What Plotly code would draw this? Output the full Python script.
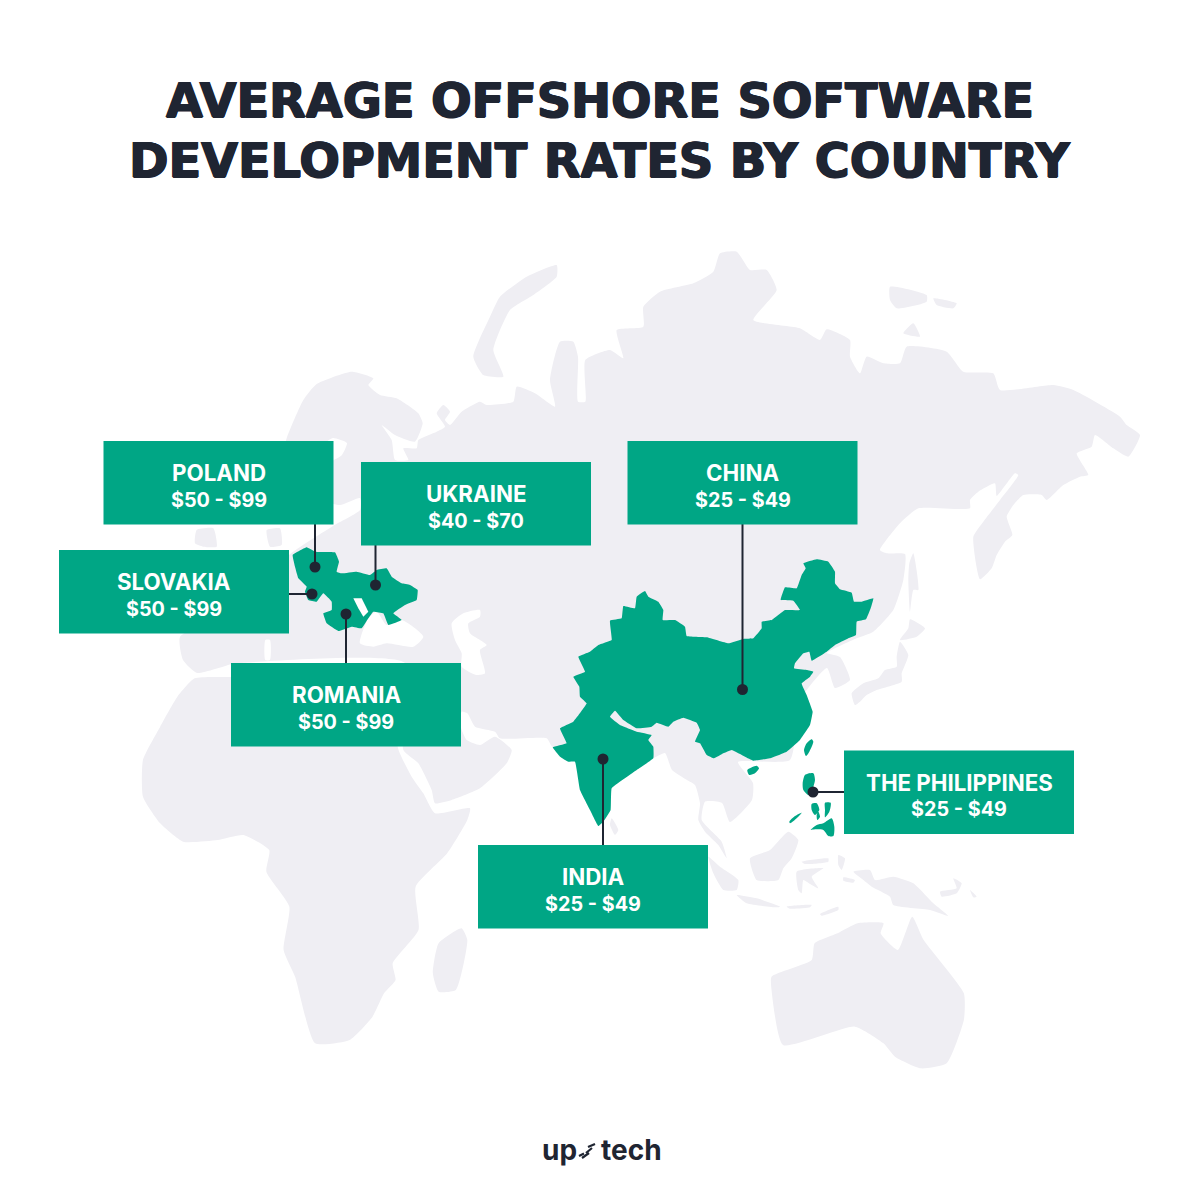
import plotly.graph_objects as go

# ---------- content ----------
TITLE_LINES = ["AVERAGE OFFSHORE SOFTWARE", "DEVELOPMENT RATES BY COUNTRY"]
COUNTRIES = ["POLAND", "UKRAINE", "CHINA", "SLOVAKIA", "ROMANIA", "INDIA", "THE PHILIPPINES"]
RATES = ["$50 - $99", "$40 - $70", "$25 - $49", "$50 - $99", "$50 - $99", "$25 - $49", "$25 - $49"]
BOX_X0 = [103.5, 361, 627.5, 59, 231, 478, 844]
BOX_Y0 = [441, 462, 441, 550, 663, 845, 750.5]
DOT_X = [315, 375.5, 742.5, 312, 346, 603, 813]
DOT_Y = [567, 585, 689.5, 594, 614, 759, 792]
ANCHOR_X = [315, 375.5, 742.5, 289, 346, 603, 844]
ANCHOR_Y = [524, 545, 524, 594, 663, 845, 792]
BOX_W, BOX_H = 230, 83.5

GREEN = "#00a685"
INK = "#1f2532"
LAND = "#efeef3"


def sx(pts, x0, y0, kx, ky):
    return [(x0 + a / kx, y0 + b / ky) for a, b in pts]


def z1(pts): return sx(pts, 40, 430, 3, 3)
def z2(pts): return sx(pts, 540, 540, 3, 3)
def z3(pts): return sx(pts, 120, 240, 1.5, 3)
def z4(pts): return sx(pts, 120, 640, 1.742, 3)
def z6(pts): return sx(pts, 780, 730, 3, 3)
def za(pts): return sx(pts, 850, 420, 3, 3)
def zb(pts): return sx(pts, 380, 590, 3, 3)
def zc(pts): return sx(pts, 680, 790, 3, 3)
def zd(pts): return sx(pts, 280, 360, 3, 3)


# ---------- outlines ----------
EURASIA = (
    zd([(20, 235), (70, 120), (110, 72), (215, 35), (280, 55), (265, 75), (300, 105), (350, 115), (415, 160), (428, 190),
        (405, 245), (345, 225), (305, 195), (335, 240), (345, 300), (385, 300), (370, 265), (410, 265), (415, 240),
        (470, 215), (495, 200), (470, 160), (490, 135), (510, 155), (495, 180), (510, 195), (545, 155), (600, 125),
        (620, 135), (700, 125), (710, 80), (765, 100), (825, 140)])
    + z3([(645, 420), (660, 305), (680, 305), (687, 350), (687, 485), (698, 485),
          (698, 360), (735, 330), (755, 355), (745, 270), (785, 260), (785, 200), (810, 155), (860, 130),
          (890, 95), (900, 40), (925, 35), (945, 90), (970, 90), (985, 150), (950, 240), (1020, 265),
          (1050, 300), (1060, 268), (1095, 300), (1095, 350), (1110, 400), (1120, 350), (1145, 370),
          (1170, 370), (1180, 320), (1240, 335), (1265, 395), (1310, 400), (1320, 450), (1400, 435),
          (1430, 450), (1500, 530)])
    + za([(830, 15), (870, 45), (835, 110), (790, 85), (735, 45), (725, 80), (680, 100), (715, 165), (690, 170),
          (640, 195), (590, 240), (575, 225), (520, 225), (490, 255), (470, 290), (487, 345), (465, 365), (440, 405),
          (425, 445), (390, 478), (370, 350), (400, 305), (450, 240), (505, 165), (495, 160), (440, 228), (435, 190),
          (385, 215), (360, 240), (360, 265), (205, 265), (150, 310), (90, 390), (110, 400), (165, 402), (160, 480),
          (130, 570), (70, 635), (20, 655)])
    + [(827, 653), (840, 657), (850, 680), (835, 688), (827, 668), (800, 700), (790, 760), (738, 762), (753, 783),
       (752, 800), (730, 822), (722, 803)]
    + zc([(75, 35), (65, 90), (125, 155), (140, 205), (115, 165), (75, 125), (55, 90), (60, 40)])
    + [(695, 785), (687, 780), (672, 770), (665, 753), (653, 758), (605, 760)]
    + zb([(517, 470), (500, 445), (360, 445), (345, 425), (285, 410), (262, 370), (245, 365), (240, 400), (245, 420),
          (260, 450), (300, 465), (345, 440), (395, 480), (380, 520), (300, 595), (215, 630), (165, 640), (155, 600),
          (115, 520), (70, 480)])
    + [(405, 663), (240, 663), (232, 664), (197, 673), (183, 660), (180, 637), (250, 600), (289, 555), (333, 526),
       (360, 510), (360, 498), (340, 505), (322, 500), (322, 465), (334, 460), (342, 455), (347, 443), (333, 438),
       (322, 445), (300, 470), (280, 470)]
)
AFRICA = z4([(130, 115), (100, 170), (70, 260), (40, 360), (40, 470), (70, 550), (110, 605), (170, 600), (215, 585),
             (260, 630), (255, 695), (295, 800), (285, 930), (305, 1010), (340, 1210), (400, 1200), (440, 1130),
             (460, 1060), (480, 1020), (475, 970), (520, 870), (515, 740), (570, 640), (605, 540)]) + zb(
    [(270, 655), (165, 670), (130, 610), (95, 560), (55, 478)]) + [(390, 680), (231, 677)]
MADAGASCAR = z4([(595, 865), (605, 900), (585, 1050), (555, 1055), (545, 1000), (555, 910)])
AUSTRALIA = z4([(1135, 1010), (1205, 960), (1210, 910), (1250, 880), (1285, 850), (1330, 850), (1325, 880), (1355, 930),
                (1380, 830), (1400, 900), (1470, 1060), (1470, 1140), (1440, 1270), (1395, 1285), (1350, 1250),
                (1330, 1210), (1280, 1160), (1155, 1215), (1135, 1050)])
SUMATRA = zc([(85, 200), (120, 230), (175, 270), (170, 300), (130, 300), (100, 250)])
BORNEO = zc([(210, 205), (270, 180), (325, 125), (355, 150), (335, 205), (310, 235), (295, 270), (230, 270)])
JAVA = zc([(170, 315), (230, 325), (300, 350), (290, 352), (200, 340)])
SUNDA_A = zc([(320, 350), (395, 345), (390, 352), (330, 356)])
SUNDA_B = zc([(420, 372), (475, 350), (475, 360), (425, 377)])
SULAWESI = zc([(350, 245), (430, 235), (395, 260), (415, 295), (395, 285), (370, 270), (365, 310), (355, 300)])
MOLUCCA_A = zc([(365, 215), (445, 205), (445, 215), (375, 222)])
MOLUCCA_B = zc([(475, 195), (495, 205), (485, 240), (475, 225)])
MOLUCCA_C = zc([(490, 262), (525, 270), (520, 278), (490, 272)])
NEW_GUINEA = zc([(520, 245), (570, 240), (585, 270), (640, 260), (700, 280), (760, 340), (805, 378), (750, 360),
                 (640, 345), (630, 320), (575, 290), (550, 270)])
BISMARCK = zc([(780, 305), (830, 295), (820, 265), (845, 280), (830, 310), (785, 320)])
SOLOMON = zc([(870, 300), (890, 320), (880, 322)])
SRI_LANKA = z2([(215, 835), (235, 870), (225, 885), (210, 855)])
SAKHALIN = za([(190, 400), (205, 510), (190, 510), (180, 575), (175, 480), (178, 430)])
HOKKAIDO = za([(180, 598), (225, 625), (200, 650), (150, 660), (175, 625)])
HONSHU = za([(150, 665), (175, 705), (155, 760), (155, 785), (80, 810), (50, 825), (30, 845), (15, 855), (5, 820),
             (40, 790), (85, 775), (105, 750), (140, 740), (140, 710)])
NOVAYA = z3([(655, 75), (655, 110), (620, 165), (585, 210), (560, 330), (575, 410), (545, 405), (530, 350), (555, 230),
             (570, 170), (610, 110)])
ARCTIC_A = z3([(1155, 140), (1210, 165), (1210, 185), (1165, 205), (1155, 180)])
ARCTIC_B = z3([(1220, 175), (1255, 190), (1250, 205), (1225, 195)])
ARCTIC_C = z3([(1190, 250), (1200, 290), (1175, 280)])
UK = z1([(470, 300), (520, 295), (530, 350), (490, 350), (465, 340)])
DENMARK = z1([(680, 300), (720, 295), (725, 345), (690, 350)])

BLACK_SEA = z1([(960, 640), (985, 565), (1010, 545), (1040, 585), (1085, 570), (1150, 620), (1120, 650), (1040, 640),
                (1000, 650)])
CASPIAN = zb([(215, 100), (250, 70), (300, 60), (300, 80), (265, 100), (270, 130), (320, 165), (300, 180), (315, 250),
              (290, 255), (245, 230), (245, 190), (225, 150)])
ITALY_GAP = z1([(676, 630), (690, 630), (690, 690), (676, 690)])
SEAS = [BLACK_SEA, CASPIAN, ITALY_GAP]

CHINA_INDIA = z2([(790, 70), (830, 58), (865, 65), (885, 95), (885, 130), (900, 148), (935, 158), (942, 185), (965, 185),
                  (1000, 175), (992, 205), (978, 238), (950, 245), (948, 285), (925, 295), (885, 315), (860, 335),
                  (815, 362), (808, 335), (790, 340), (765, 370), (762, 385), (800, 390), (820, 395), (810, 410),
                  (785, 430), (800, 465), (818, 515), (810, 555), (780, 600), (740, 635), (690, 655), (640, 662),
                  (615, 650), (575, 630), (550, 640), (522, 655), (500, 645), (480, 610), (465, 605), (480, 570),
                  (470, 548), (430, 533), (400, 545), (385, 560), (350, 548), (335, 560), (290, 565), (250, 540),
                  (225, 512), (210, 530), (240, 555), (290, 575), (335, 585), (325, 600), (340, 620), (340, 655),
                  (290, 690), (215, 745), (212, 810), (190, 845), (175, 858), (150, 810), (120, 750), (105, 665),
                  (85, 665), (60, 650), (38, 622), (80, 610), (60, 565), (100, 545), (140, 490), (120, 470), (118, 440),
                  (100, 410), (135, 395), (115, 350), (150, 335), (175, 315), (215, 300), (210, 242), (245, 235),
                  (250, 198), (285, 205), (290, 170), (315, 153), (325, 170), (355, 185), (370, 210), (368, 240),
                  (405, 240), (435, 260), (440, 288), (500, 292), (565, 310), (610, 297), (640, 295), (665, 265),
                  (665, 245), (695, 240), (735, 210), (780, 210), (760, 182), (722, 180), (735, 142), (770, 145),
                  (785, 105), (797, 85)])
HAINAN = z2([(622, 690), (650, 677), (657, 685), (645, 700), (628, 705)])
EAST_EUROPE = z1([(758, 375), (800, 352), (825, 365), (885, 367), (897, 395), (890, 425), (905, 430), (950, 425),
                  (990, 435), (1010, 420), (1040, 415), (1055, 440), (1085, 460), (1110, 465), (1133, 480), (1130, 510),
                  (1095, 525), (1060, 550), (1085, 570), (1045, 585), (1030, 550), (1000, 545), (985, 565), (965, 595),
                  (935, 590), (895, 603), (860, 580), (850, 550), (875, 540), (875, 515), (850, 490), (830, 515),
                  (805, 510), (795, 485), (800, 470), (775, 445), (765, 410)])
MOLDOVA_GAP = z1([(940, 505), (965, 505), (985, 545), (970, 560), (955, 535)])
PH_ISLANDS = [z6(p) for p in (
    [(95, 28), (100, 35), (88, 65), (78, 78), (72, 60), (80, 40)],
    [(75, 135), (100, 130), (105, 150), (100, 175), (110, 195), (85, 195), (70, 180), (68, 160)],
    [(65, 248), (50, 265), (30, 280), (28, 275), (45, 258)],
    [(95, 222), (110, 220), (118, 240), (105, 255), (95, 240)],
    [(135, 218), (152, 218), (148, 245), (135, 262), (135, 240)],
    [(115, 245), (120, 260), (112, 270), (110, 255)],
    [(92, 300), (110, 285), (130, 280), (155, 265), (163, 290), (160, 318), (145, 318), (130, 300), (105, 298)],
)]


def poly(polys, color, name, smooth=0.0):
    xs, ys = [], []
    for p in polys:
        xs += [a for a, _ in p] + [p[0][0], None]
        ys += [b for _, b in p] + [p[0][1], None]
    line = dict(width=0)
    if smooth:
        line.update(shape="spline", smoothing=smooth)
    return go.Scatter(x=xs, y=ys, mode="lines", fill="toself", fillcolor=color, line=line,
                      hoverinfo="skip", name=name)


fig = go.Figure()
fig.add_trace(poly([EURASIA, AFRICA, MADAGASCAR, AUSTRALIA, SUMATRA, BORNEO, JAVA, SUNDA_A, SUNDA_B, SULAWESI,
                    MOLUCCA_A, MOLUCCA_B, MOLUCCA_C, NEW_GUINEA, BISMARCK, SOLOMON, SRI_LANKA, HOKKAIDO, HONSHU,
                    SAKHALIN, NOVAYA, ARCTIC_A, ARCTIC_B, ARCTIC_C, UK, DENMARK], LAND, "land", 0.5))
fig.add_trace(poly(SEAS, "#ffffff", "seas", 0.6))
fig.add_trace(poly([CHINA_INDIA, EAST_EUROPE], GREEN, "highlighted", 0.25))
fig.add_trace(poly([HAINAN] + PH_ISLANDS, GREEN, "islands", 0.7))
fig.add_trace(poly([MOLDOVA_GAP], "#ffffff", "gap"))

for i in range(len(COUNTRIES)):
    fig.add_trace(go.Scatter(x=[ANCHOR_X[i], DOT_X[i]], y=[ANCHOR_Y[i], DOT_Y[i]], mode="lines",
                             line=dict(color=INK, width=2), hoverinfo="skip", name=COUNTRIES[i]))
fig.add_trace(go.Scatter(x=DOT_X, y=DOT_Y, mode="markers", marker=dict(color=INK, size=11), hoverinfo="skip",
                         name="dots"))

shapes, notes = [], []
LABEL_FONT = "Inter"
for i, (c, r) in enumerate(zip(COUNTRIES, RATES)):
    x0, y0 = BOX_X0[i], BOX_Y0[i]
    shapes.append(dict(type="rect", x0=x0, x1=x0 + BOX_W, y0=y0, y1=y0 + BOX_H, xref="x", yref="y",
                       fillcolor=GREEN, line=dict(width=0), layer="above"))
    notes.append(dict(x=x0 + BOX_W / 2, y=y0 + 31.5, text=f"<b>{c}</b>", showarrow=False, xref="x", yref="y",
                      font=dict(family=LABEL_FONT, size=22.3, color="white", weight=800)))
    notes.append(dict(x=x0 + BOX_W / 2, y=y0 + 58.5, text=f"<b>{r}</b>", showarrow=False, xref="x", yref="y",
                      font=dict(family=LABEL_FONT, size=19.8, color="white", weight=700)))

for line, y in zip(TITLE_LINES, [100, 160]):
    notes.append(dict(x=600, y=y, text=f"<b>{line}</b>", showarrow=False, xref="x", yref="y",
                      font=dict(family="DejaVu Sans", size=47.7, color=INK, weight=800,
                                shadow=f"0.8px 0 0 {INK}, -0.8px 0 0 {INK}, 0 0.5px 0 {INK}, 0 -0.5px 0 {INK}")))

notes.append(dict(x=579, y=1150, text="<b>up</b>", showarrow=False, xref="x", yref="y", xanchor="right",
                  font=dict(family="Inter", size=28, color=INK, weight=800)))
notes.append(dict(x=598.5, y=1150, text="<b>tech</b>", showarrow=False, xref="x", yref="y", xanchor="left",
                  font=dict(family="Inter", size=28, color=INK, weight=800)))
LOGO_X = [[579, 584], [582, 589], [586, 592], [588, 595]]
LOGO_Y = [[1156, 1153.5], [1158, 1153], [1153, 1148], [1147, 1144]]
for lx, ly in zip(LOGO_X, LOGO_Y):
    fig.add_trace(go.Scatter(x=lx, y=ly, mode="lines", line=dict(color=INK, width=2.2), hoverinfo="skip",
                             name="logo"))

fig.update_layout(width=1200, height=1200, margin=dict(l=0, r=0, t=0, b=0), showlegend=False,
                  paper_bgcolor="white", plot_bgcolor="white", shapes=shapes, annotations=notes,
                  xaxis=dict(range=[0, 1200], visible=False, fixedrange=True),
                  yaxis=dict(range=[1200, 0], visible=False, fixedrange=True))
fig.write_html("out.html", config={"displayModeBar": False},
               post_script="document.body.style.margin='0';document.documentElement.style.overflow='hidden';")
